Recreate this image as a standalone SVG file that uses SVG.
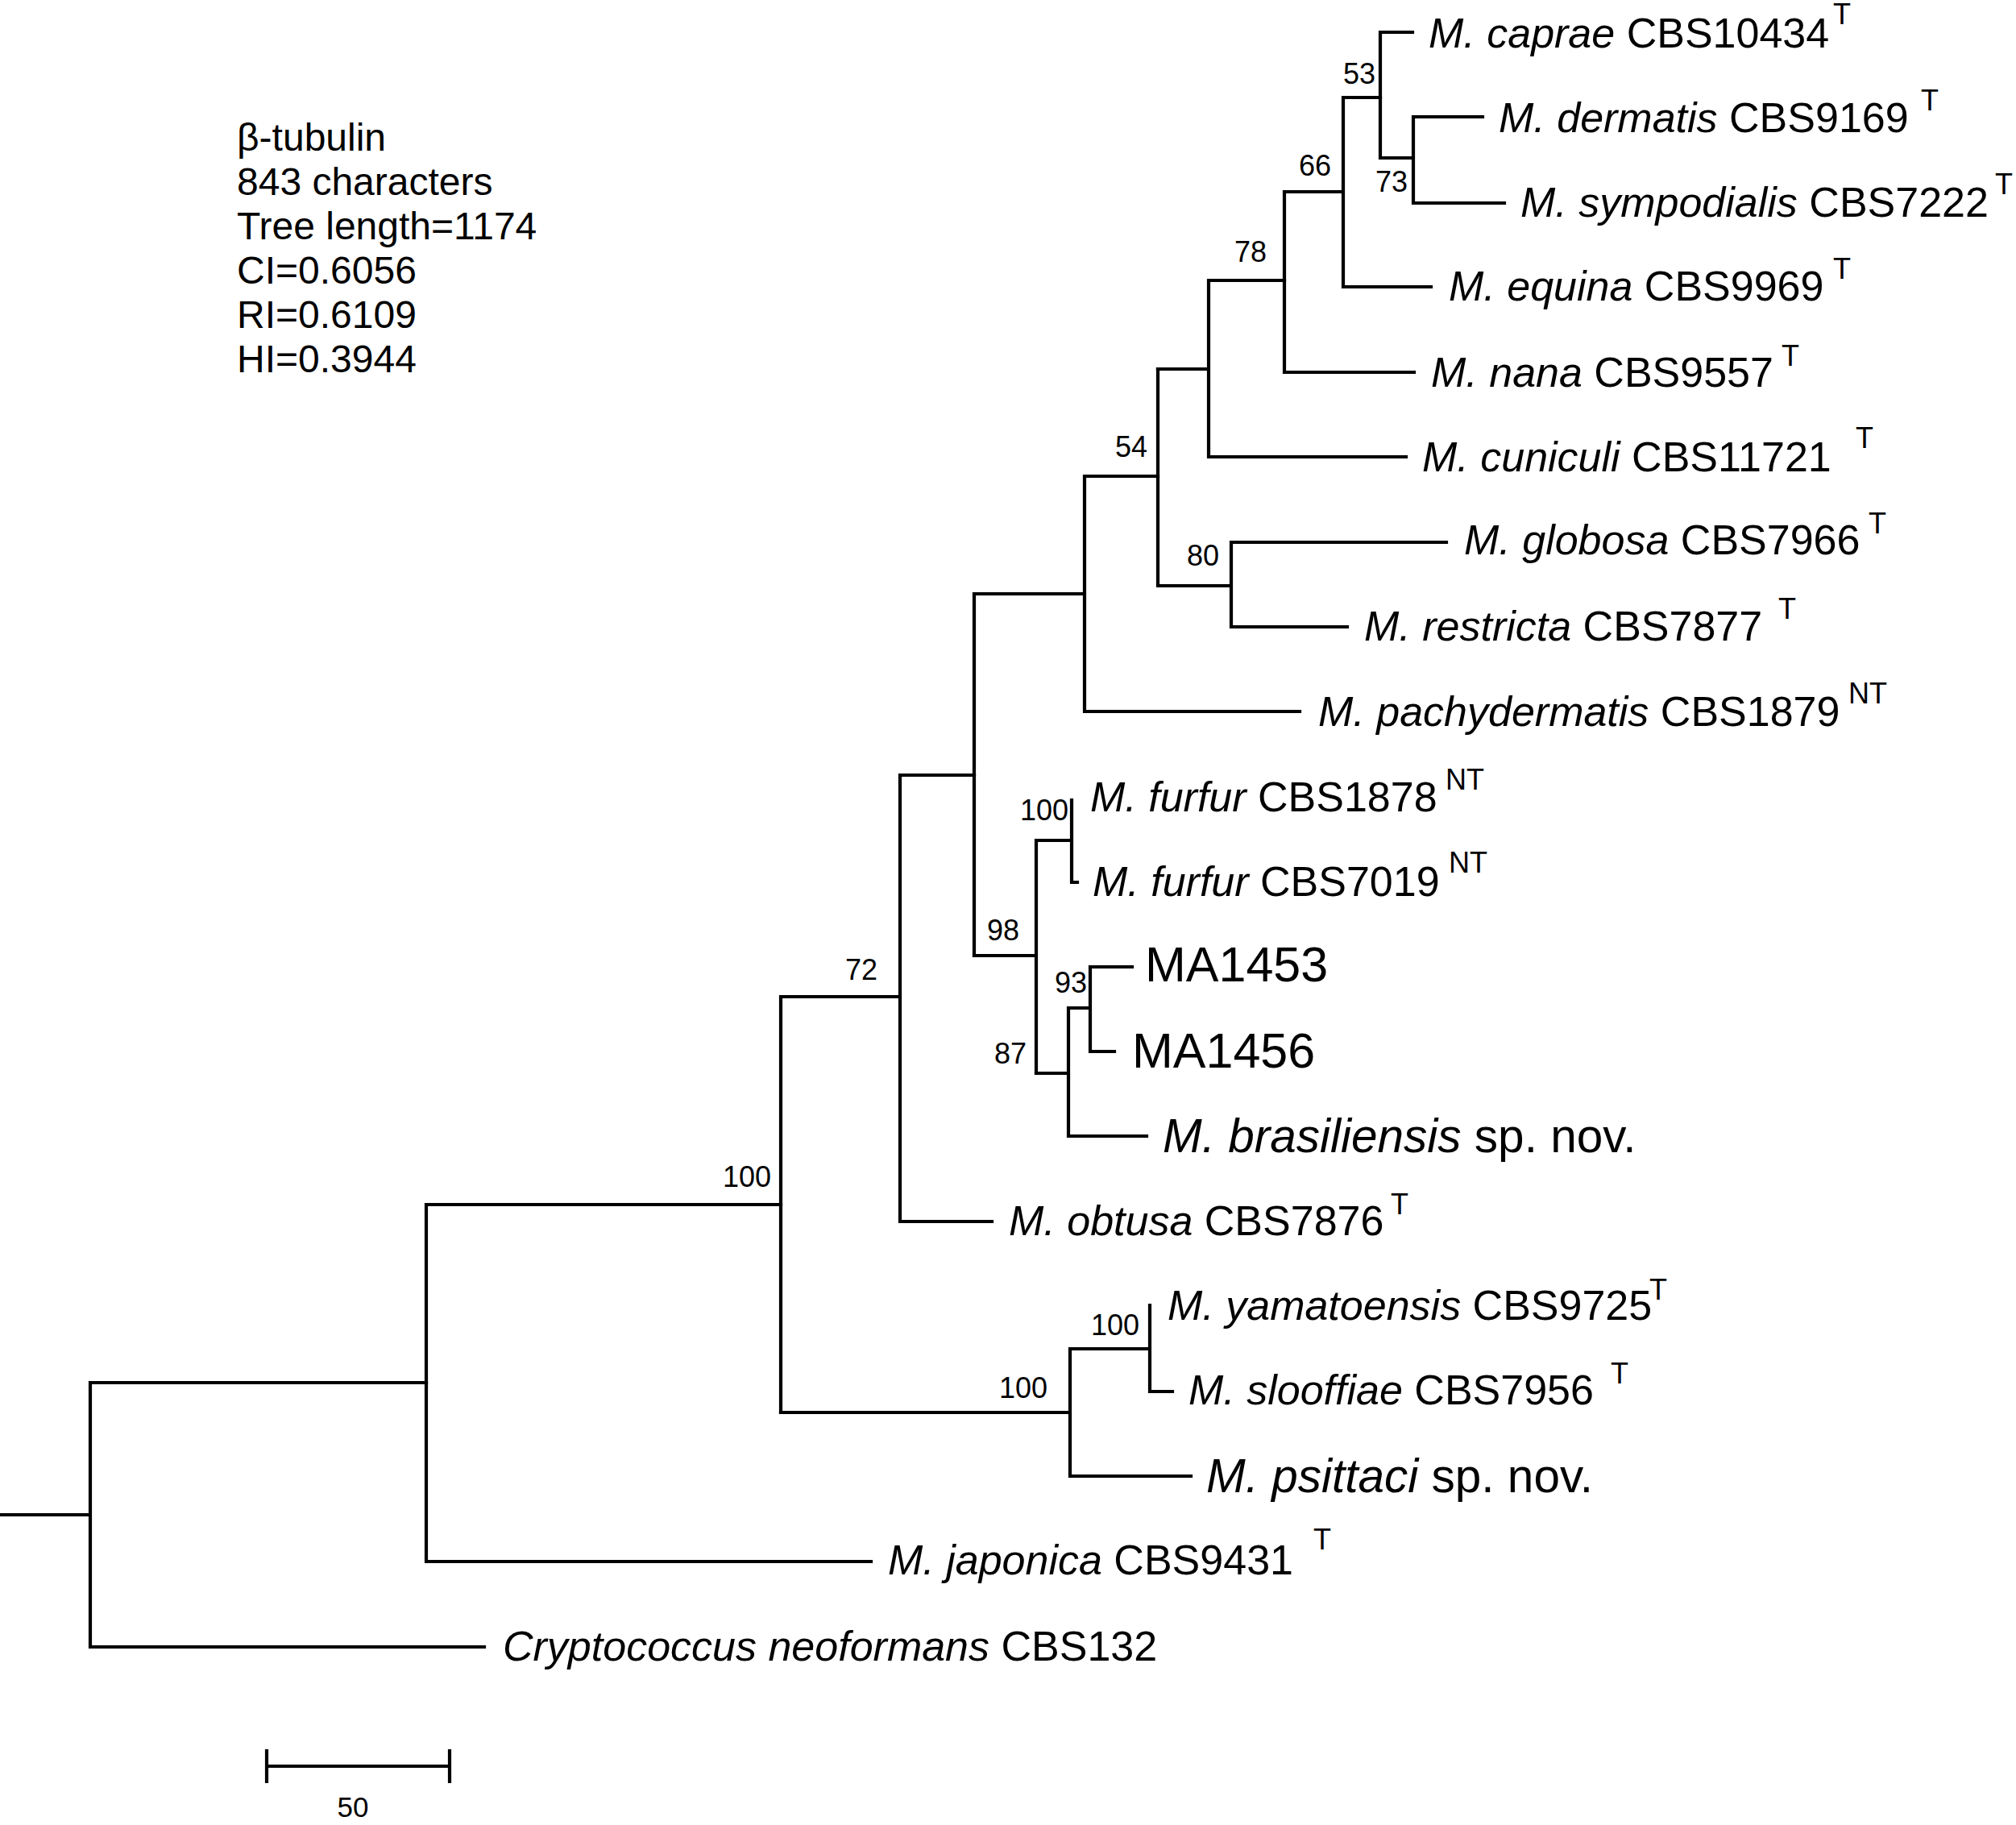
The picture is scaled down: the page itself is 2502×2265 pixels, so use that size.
<svg xmlns="http://www.w3.org/2000/svg" width="2502" height="2265" viewBox="0 0 2502 2265">
<style>
text{font-family:"Liberation Sans",Arial,Helvetica,sans-serif;fill:#000}
.lab{font-size:52px}
.big{font-size:61px}
.sp{font-size:58.5px}
.sup{font-size:36px}
.bs{font-size:36px;text-anchor:end}
.st{font-size:48px}
.i{font-style:italic}
.br{fill:none;stroke:#000;stroke-width:4.2;stroke-linecap:square}
</style>
<rect width="2502" height="2265" fill="#fff"/>
<g id="stats">
<text class="st" x="294" y="187">β-tubulin</text>
<text class="st" x="294" y="242">843 characters</text>
<text class="st" x="294" y="297">Tree length=1174</text>
<text class="st" x="294" y="352">CI=0.6056</text>
<text class="st" x="294" y="407">RI=0.6109</text>
<text class="st" x="294" y="462">HI=0.3944</text>
</g>
<g id="connectors" class="br">
<path d="M0,1880H112M112,1716V2044M112,2044H601M112,1716H529"/>
<path d="M529,1495V1938M529,1938H1081M529,1495H969"/>
<path d="M969,1237V1753M969,1237H1117M1117,962V1516M1117,1516H1231M1117,962H1209"/>
<path d="M1209,737V1186M1209,737H1346M1346,591V883M1346,883H1613M1346,591H1437"/>
<path d="M1437,458V727M1437,727H1528M1528,673V778M1528,673H1795M1528,778H1672"/>
<path d="M1437,458H1500M1500,348V567M1500,567H1745M1500,348H1594"/>
<path d="M1594,238V462M1594,462H1755M1594,238H1667M1667,121V356M1667,356H1776M1667,121H1713"/>
<path d="M1713,40V196M1713,40H1753M1713,196H1754M1754,145V252M1754,145H1840M1754,252H1867"/>
<path d="M1209,1186H1286M1286,1043V1332M1286,1043H1330M1330,993V1095M1330,1095H1337"/>
<path d="M1286,1332H1326M1326,1251V1410M1326,1410H1423M1326,1251H1353M1353,1200V1305M1353,1200H1405M1353,1305H1383"/>
<path d="M969,1753H1328M1328,1674V1832M1328,1832H1478M1328,1674H1427M1427,1620V1727M1427,1727H1455"/>
</g>
<g id="support">
<text class="bs" x="1707" y="104">53</text>
<text class="bs" x="1747" y="238">73</text>
<text class="bs" x="1652" y="218">66</text>
<text class="bs" x="1572" y="325">78</text>
<text class="bs" x="1424" y="567">54</text>
<text class="bs" x="1513" y="702">80</text>
<text class="bs" x="1089" y="1216">72</text>
<text class="bs" x="1326" y="1018">100</text>
<text class="bs" x="1265" y="1167">98</text>
<text class="bs" x="1349" y="1232">93</text>
<text class="bs" x="1274" y="1320">87</text>
<text class="bs" x="957" y="1473">100</text>
<text class="bs" x="1300" y="1735">100</text>
<text class="bs" x="1414" y="1657">100</text>
</g>
<g id="caprae"><text class="lab" x="1773" y="59"><tspan class="i">M. caprae</tspan> CBS10434</text><text class="sup" x="2275" y="30">T</text></g>
<g id="dermatis"><text class="lab" x="1860" y="164"><tspan class="i">M. dermatis</tspan> CBS9169</text><text class="sup" x="2384" y="137">T</text></g>
<g id="sympodialis"><text class="lab" x="1887" y="269"><tspan class="i">M. sympodialis</tspan> CBS7222</text><text class="sup" x="2476" y="241">T</text></g>
<g id="equina"><text class="lab" x="1798" y="373"><tspan class="i">M. equina</tspan> CBS9969</text><text class="sup" x="2275" y="346">T</text></g>
<g id="nana"><text class="lab" x="1776" y="480"><tspan class="i">M. nana</tspan> CBS9557</text><text class="sup" x="2211" y="454">T</text></g>
<g id="cuniculi"><text class="lab" x="1765" y="585"><tspan class="i">M. cuniculi</tspan> CBS11721</text><text class="sup" x="2303" y="556">T</text></g>
<g id="globosa"><text class="lab" x="1817" y="688"><tspan class="i">M. globosa</tspan> CBS7966</text><text class="sup" x="2319" y="662">T</text></g>
<g id="restricta"><text class="lab" x="1693" y="795"><tspan class="i">M. restricta</tspan> CBS7877</text><text class="sup" x="2207" y="768">T</text></g>
<g id="pachydermatis"><text class="lab" x="1636" y="901"><tspan class="i">M. pachydermatis</tspan> CBS1879</text><text class="sup" x="2294" y="873">NT</text></g>
<g id="furfur1878"><text class="lab" x="1353" y="1007"><tspan class="i">M. furfur</tspan> CBS1878</text><text class="sup" x="1794" y="980">NT</text></g>
<g id="furfur7019"><text class="lab" x="1356" y="1112"><tspan class="i">M. furfur</tspan> CBS7019</text><text class="sup" x="1798" y="1083">NT</text></g>
<g id="MA1453"><text class="big" x="1421" y="1218">MA1453</text></g>
<g id="MA1456"><text class="big" x="1405" y="1325">MA1456</text></g>
<g id="brasiliensis"><text class="sp" x="1443" y="1430"><tspan class="i">M. brasiliensis</tspan> sp. nov.</text></g>
<g id="obtusa"><text class="lab" x="1252" y="1533"><tspan class="i">M. obtusa</tspan> CBS7876</text><text class="sup" x="1726" y="1507">T</text></g>
<g id="yamatoensis"><text class="lab" x="1449" y="1638"><tspan class="i">M. yamatoensis</tspan> CBS9725</text><text class="sup" x="2047" y="1613">T</text></g>
<g id="slooffiae"><text class="lab" x="1475" y="1743"><tspan class="i">M. slooffiae</tspan> CBS7956</text><text class="sup" x="1999" y="1717">T</text></g>
<g id="psittaci"><text class="sp" x="1497" y="1852"><tspan class="i">M. psittaci</tspan> sp. nov.</text></g>
<g id="japonica"><text class="lab" x="1102" y="1954"><tspan class="i">M. japonica</tspan> CBS9431</text><text class="sup" x="1630" y="1923">T</text></g>
<g id="cryptococcus"><text class="lab" x="624" y="2061"><tspan class="i">Cryptococcus neoformans</tspan> CBS132</text></g>
<g id="scalebar">
<path class="br" d="M331,2192H558M331,2173V2211M558,2173V2211" stroke-linecap="round"/>
<text x="438" y="2255" font-size="35" text-anchor="middle">50</text>
</g>
</svg>
